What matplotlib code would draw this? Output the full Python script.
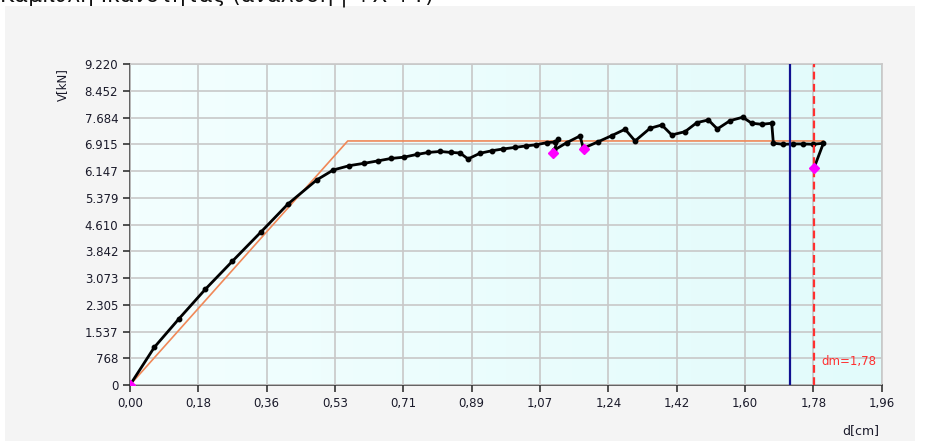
import numpy as np
import matplotlib
matplotlib.use("Agg")
import matplotlib.pyplot as plt
from matplotlib.patches import Rectangle

# curve data
d_curve = [0.0, 0.0634, 0.1278, 0.1964, 0.2668, 0.3408, 0.4120, 0.4868, 0.5301, 0.5719,
           0.6110, 0.6454, 0.6806, 0.7132, 0.7476, 0.7779, 0.8084, 0.8371, 0.8605, 0.8814,
           0.9127, 0.9432, 0.9727, 1.0027, 1.0314, 1.0595, 1.0866, 1.1083, 1.1169, 1.1057,
           1.1388, 1.1734, 1.1821, 1.2212, 1.2561, 1.2908, 1.3169, 1.3560, 1.3865, 1.4126,
           1.4473, 1.4778, 1.5080, 1.5315, 1.5646, 1.5977, 1.6212, 1.6473, 1.6733, 1.6775,
           1.7036, 1.7297, 1.7557, 1.7818, 1.8079, 1.7836]
v_curve = [0, 1084, 1906, 2752, 3557, 4391, 5205, 5895, 6182, 6306,
           6375, 6441, 6513, 6548, 6628, 6686, 6714, 6686, 6671, 6499,
           6663, 6734, 6786, 6829, 6872, 6907, 6967, 6987, 7065, 6750,
           6968, 7160, 6806, 6996, 7169, 7353, 7016, 7381, 7476, 7189,
           7284, 7542, 7620, 7361, 7600, 7698, 7525, 7496, 7525, 6950,
           6921, 6930, 6930, 6921, 6950, 6240]

# bilinear idealisation
d_bilin = [0.0, 0.5677, 1.8079]
v_bilin = [0, 7016, 7016]

# marked points
d_marks = [0.0, 1.1022, 1.1840, 1.7836]
v_marks = [0, 6671, 6772, 6240]

d_blue = 1.721
dm = 1.784

x_ticks = [i * 1.96 / 11 for i in range(12)]
x_labels = ["0,00", "0,18", "0,36", "0,53", "0,71", "0,89", "1,07", "1,24",
            "1,42", "1,60", "1,78", "1,96"]
y_ticks = [i * 9220 / 12 for i in range(13)]
y_labels = ["0", "768", "1.537", "2.305", "3.073", "3.842", "4.610", "5.379",
            "6.147", "6.915", "7.684", "8.452", "9.220"]

W, H = 927, 441
fig = plt.figure(figsize=(W / 100, H / 100), dpi=100)
fig.patch.set_facecolor("white")
fig.patches.append(Rectangle((5 / W, 0), 910 / W, 1 - 6 / H, transform=fig.transFigure,
                             facecolor="#f4f4f4", edgecolor="none", zorder=-5))
# title is cut off at the top edge in the reference
fig.text(0.0, 1 - 3 / H, "Καμπύλη Ικανότητας (ανάλυση | +Χ +Υ)", fontsize=15.5,
         va="baseline", ha="left", color="#111111", zorder=-4)

ax = fig.add_axes([130 / W, 1 - 385 / H, 751.7 / W, 320.7 / H])
ax.set_zorder(2)
ax.set_xlim(0, 1.96)
ax.set_ylim(0, 9220)

# background gradient, light cyan getting a bit deeper to the right
grad = np.linspace(0, 1, 64).reshape(1, -1)
cmap = matplotlib.colors.LinearSegmentedColormap.from_list("bg", ["#f3ffff", "#e2fbfb"])
ax.imshow(grad, extent=[0, 1, 0, 1], transform=ax.transAxes, aspect="auto",
          cmap=cmap, interpolation="bilinear", zorder=0)

ax.set_xticks(x_ticks)
ax.set_xticklabels(x_labels)
ax.set_yticks(y_ticks)
ax.set_yticklabels(y_labels)
ax.grid(True, color="#c8c8c8", lw=1.2, zorder=1)
ax.set_axisbelow(False)
ax.tick_params(axis="both", labelsize=8.5, colors="#333333", labelcolor="#1a1a2a",
               length=5, width=1.2, direction="out")
for s in ["top", "right"]:
    ax.spines[s].set_color("#c8c8c8")
    ax.spines[s].set_linewidth(1.2)
for s in ["left", "bottom"]:
    ax.spines[s].set_color("#555555")
    ax.spines[s].set_linewidth(1.3)

ax.plot(d_bilin, v_bilin, color="#f08858", lw=1.2, zorder=3)
ax.plot(d_curve, v_curve, color="black", lw=2.0, marker="o", markersize=3.2, zorder=4)
ax.plot(d_marks, v_marks, ls="none", marker="D", color="#ff00ff", markersize=5.5, zorder=5)
ax.axvline(d_blue, color="#101090", lw=1.6, zorder=4)
ax.axvline(dm, color="#ff3030", lw=1.6, ls=(0, (3.5, 2)), zorder=4)
ax.text(dm + 0.02, 500, "dm=1,78", color="#ff3030", fontsize=8.5, ha="left", va="bottom",
        zorder=6)

fig.text(62 / W, 1 - 85 / H, "V[kN]", rotation=90, fontsize=8.5, ha="center",
         va="center", color="#1a1a2a")
fig.text(861 / W, 1 - 431 / H, "d[cm]", fontsize=9, ha="center", va="center",
         color="#1a1a2a")

fig.savefig("out.png", dpi=100, facecolor=fig.get_facecolor())
